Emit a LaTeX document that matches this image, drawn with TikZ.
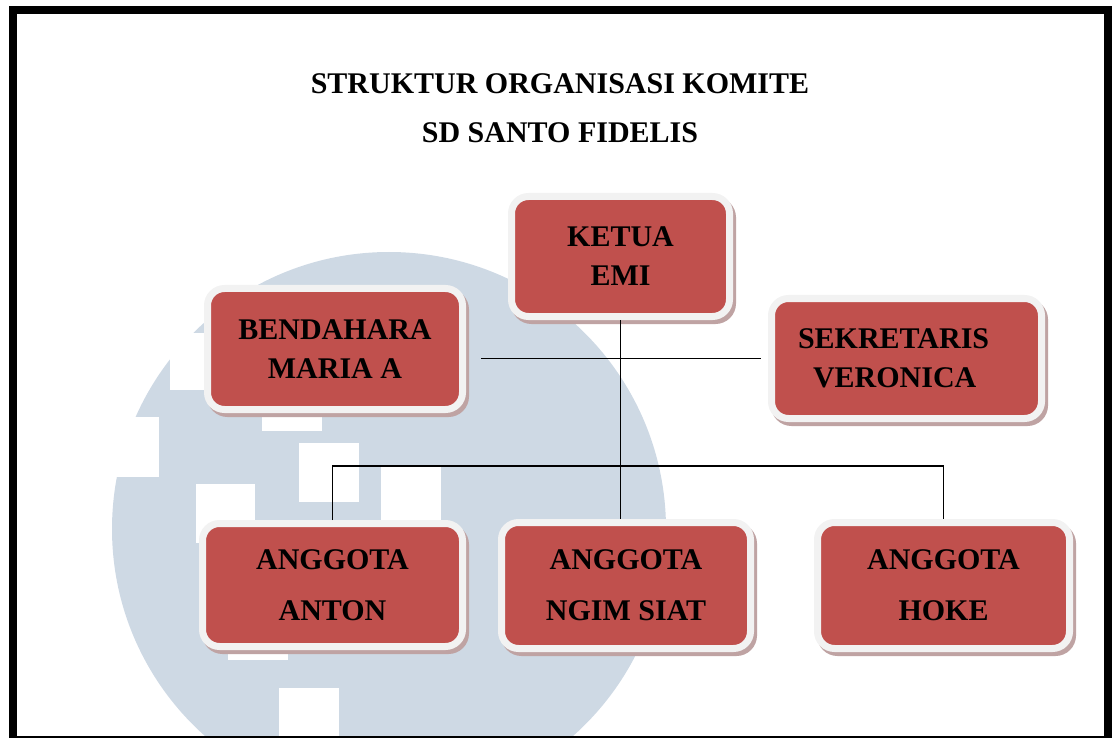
\documentclass[tikz,border=0pt]{standalone}
\usepackage{fontspec}
\setmainfont{Liberation Serif}
\usetikzlibrary{shadows}
\definecolor{boxred}{HTML}{C0504D}
\definecolor{boxrim}{HTML}{F2F2F2}
\definecolor{boxshade}{HTML}{BFA3A3}
\definecolor{logoblue}{HTML}{CED9E4}
\tikzset{
	posbox/.style={rectangle, rounded corners=17pt, fill=boxred, draw=boxrim, line width=7pt,
		align=center, inner sep=0pt, font=\bfseries\fontsize{30}{39}\selectfont,
		drop shadow={shadow xshift=3pt, shadow yshift=-4pt, opacity=1, fill=boxshade, draw=boxshade, line width=7pt}},
	lowbox/.style={posbox, font=\bfseries\fontsize{30}{51}\selectfont},
	link/.style={line width=1.8pt}
}
\begin{document}
\begin{tikzpicture}[x=1pt, y=-1pt]
				\useasboundingbox (0,0) rectangle (1117,738);
				% watermark behind the chart
				\begin{scope}
					\clip (0,0) rectangle (1117,738);
					\fill[logoblue] (389,529) circle (277pt);
					\foreach \xa/\ya/\xb/\yb in {170/333/215/390, 100/417/159/477, 262/395/322/431, 299/443/359/502,
						381/467/441/530, 196/484/255/543, 228/630/288/660, 279/688/339/740}
					{
						\fill[white] (\xa,\ya) rectangle (\xb,\yb);
					}
				\end{scope}
				% frame
				\draw[line width=8pt] (13,740) -- (13,10) -- (1108,10) -- (1108,740);
				\draw[line width=1.5pt] (9,736.8) -- (1112,736.8);
				% title
				\node[font=\bfseries\fontsize{30}{36}\selectfont, anchor=base] (title1) at (560,93.3) {STRUKTUR ORGANISASI KOMITE};
				\node[font=\bfseries\fontsize{30}{36}\selectfont, anchor=base] (title2) at (560,143) {SD SANTO FIDELIS};
				% boxes
				\node[posbox, minimum width=218pt, minimum height=120pt] (ketua) at (620.5,256.5) {KETUA\\EMI};
				\node[posbox, minimum width=255pt, minimum height=121pt] (bendahara) at (335,349) {BENDAHARA\\MARIA A};
				\node[posbox, minimum width=270pt, minimum height=120pt, text width=230pt, align=left] (sekretaris) at (906.5,358.5)
					{\hspace*{6.5pt}SEKRETARIS\\\hspace*{21.5pt}VERONICA};
				\node[lowbox, minimum width=260pt, minimum height=123pt] (anton) at (332.5,585) {ANGGOTA\\ANTON};
				\node[lowbox, minimum width=249pt, minimum height=126pt] (ngim) at (626,585.5) {ANGGOTA\\NGIM SIAT};
				\node[lowbox, minimum width=252pt, minimum height=126pt] (hoke) at (943.5,585.5) {ANGGOTA\\HOKE};
				% connectors
				\coordinate (bus) at (620.5,466);
				\draw[link] (ketua.south) -- (ngim.north -| ketua.south);
				\draw[link, shorten <=15pt, shorten >=7pt] (bendahara.east |- sekretaris.west) -- (sekretaris.west);
				\draw[link] (anton.north) |- (bus) -| (hoke.north);
\end{tikzpicture}
\end{document}
